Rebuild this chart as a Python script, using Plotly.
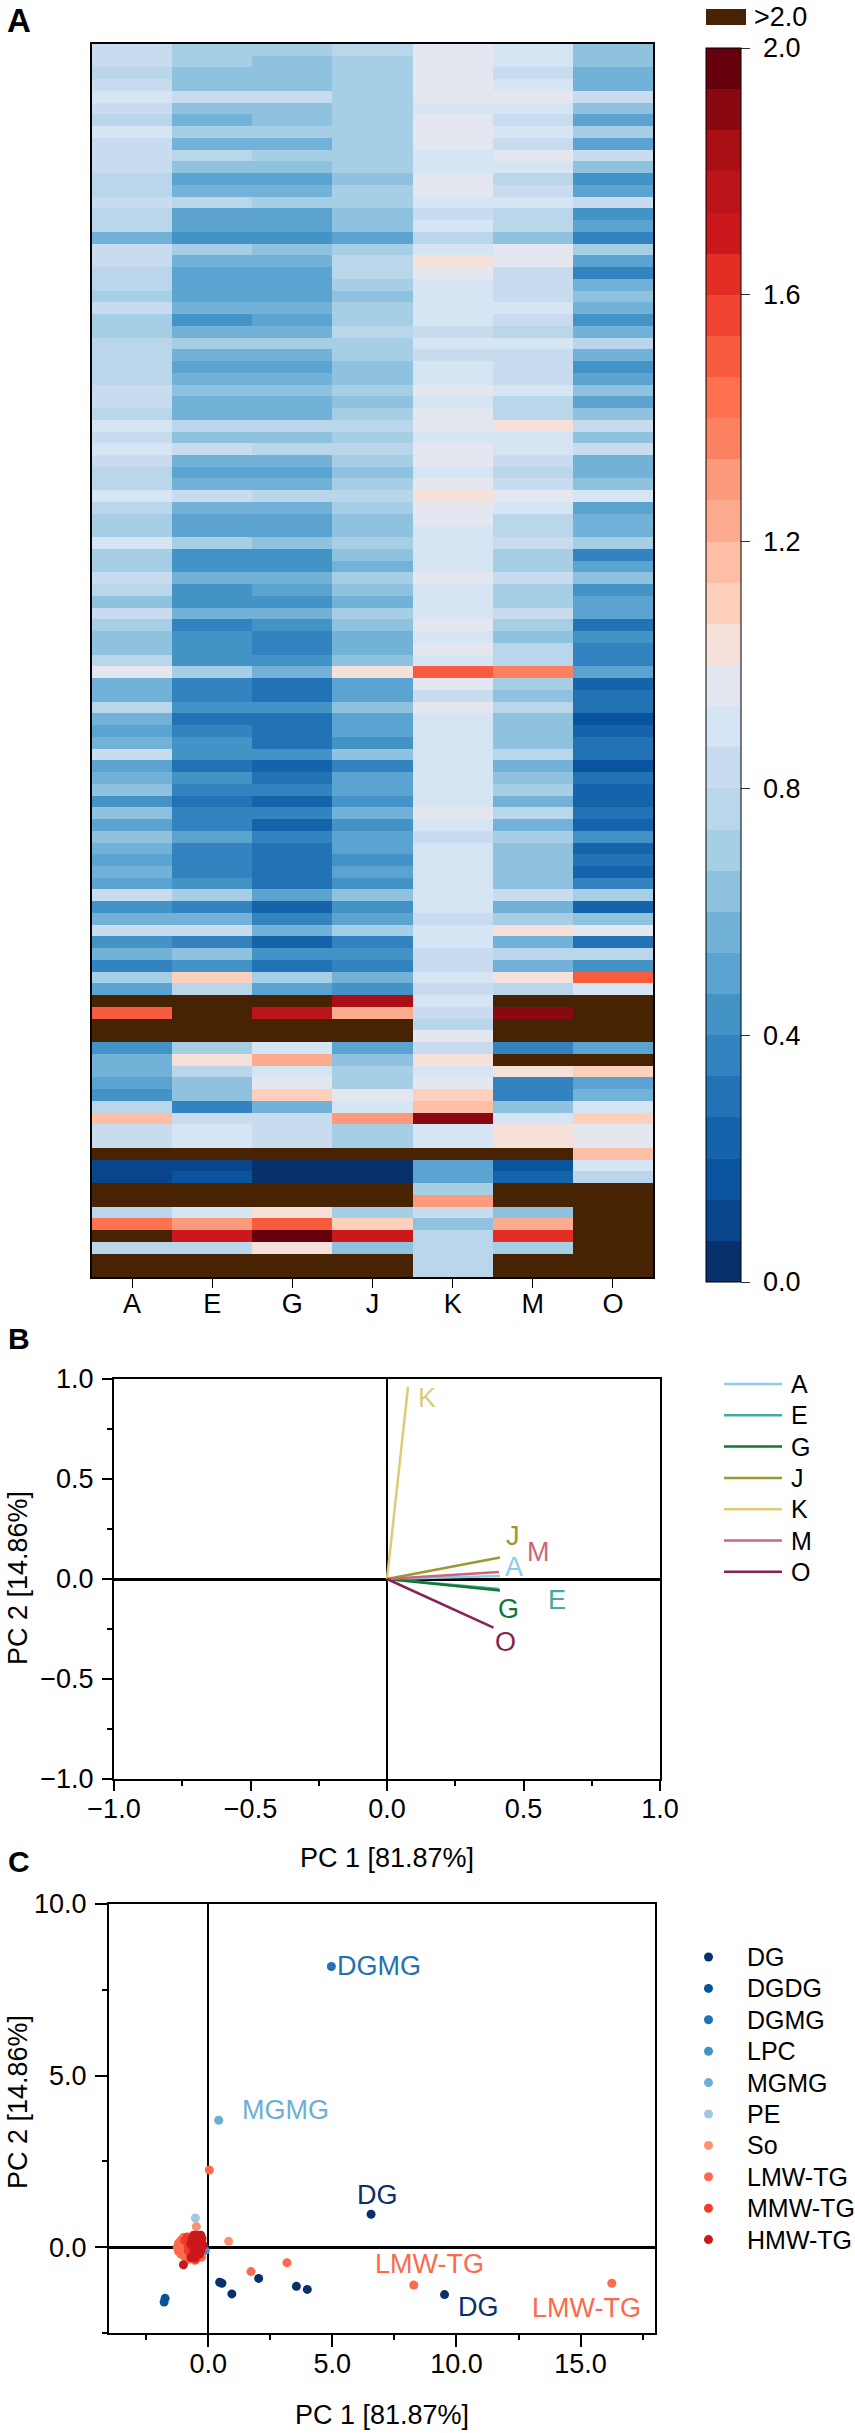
import plotly.graph_objects as go

W = 855
H = 2433
FONT = "Liberation Sans"

# heatmap (values above 2.0 stored as 2.5)
samples = ["A", "E", "G", "J", "K", "M", "O"]
rows_top = [
    [.83, .70, .70, .77, .97, .90, .63],
    [.83, .70, .63, .70, .97, .90, .63],
    [.77, .63, .63, .70, .97, .83, .57],
    [.83, .63, .63, .70, .97, .90, .57],
    [.90, .83, .83, .70, .97, .97, .83],
    [.83, .63, .63, .70, .90, .90, .63],
    [.77, .57, .63, .70, .97, .83, .50],
    [.90, .70, .70, .70, .97, .90, .70],
    [.83, .57, .57, .70, .97, .83, .50],
    [.83, .77, .70, .70, .90, .97, .83],
    [.83, .63, .63, .70, .90, .90, .63],
    [.77, .50, .50, .63, .97, .77, .43],
    [.77, .57, .57, .70, .97, .83, .50],
    [.83, .77, .70, .70, .90, .90, .83],
    [.77, .50, .50, .63, .83, .77, .43],
    [.77, .50, .50, .63, .90, .77, .50],
    [.57, .43, .43, .50, .77, .63, .37],
    [.83, .70, .63, .70, .90, .97, .70],
    [.83, .57, .57, .77, 1.03, .97, .50],
    [.77, .50, .50, .77, .97, .83, .37],
    [.77, .50, .50, .70, .90, .83, .57],
    [.70, .50, .50, .63, .90, .83, .63],
    [.83, .57, .57, .70, .90, .90, .57],
    [.70, .43, .50, .70, .90, .83, .43],
    [.70, .57, .57, .77, .83, .77, .57],
    [.77, .70, .70, .70, .90, .90, .77],
]
rows_upper = [
    [.77, .57, .57, .70, .83, .83, .57],
    [.77, .50, .50, .63, .90, .83, .43],
    [.77, .57, .57, .63, .90, .83, .50],
    [.83, .63, .63, .70, .97, .90, .63],
    [.83, .57, .57, .63, .90, .77, .50],
    [.77, .57, .57, .70, .97, .77, .63],
    [.90, .77, .77, .77, .97, 1.03, .83],
    [.83, .63, .63, .70, .90, .90, .63],
    [.90, .83, .77, .77, .97, .90, .83],
    [.83, .57, .57, .70, .97, .83, .57],
    [.77, .50, .50, .63, .90, .77, .57],
    [.77, .57, .57, .70, .97, .83, .63],
    [.90, .83, .77, .77, 1.03, .97, .90],
    [.77, .57, .57, .70, .97, .90, .50],
    [.70, .50, .50, .63, .97, .77, .57],
    [.70, .50, .50, .63, .90, .77, .57],
    [.90, .70, .63, .70, .90, .83, .70],
    [.70, .43, .43, .63, .90, .70, .37],
    [.70, .43, .43, .57, .90, .70, .50],
    [.83, .57, .57, .70, .97, .83, .63],
    [.77, .43, .50, .63, .90, .70, .43],
    [.63, .43, .43, .57, .90, .70, .50],
    [.83, .57, .57, .70, .90, .83, .50],
    [.70, .37, .43, .63, .97, .70, .30],
    [.63, .43, .37, .57, .90, .63, .43],
    [.63, .43, .37, .57, .97, .77, .37],
]
rows_lower = [
    [.77, .43, .43, .63, .90, .77, .37],
    [.97, .70, .57, 1.03, 1.50, 1.37, .50],
    [.57, .37, .30, .50, .97, .70, .23],
    [.57, .37, .30, .50, .83, .63, .30],
    [.77, .43, .43, .63, .97, .77, .30],
    [.57, .30, .30, .50, .90, .63, .17],
    [.50, .37, .30, .50, .90, .63, .23],
    [.57, .43, .30, .43, .90, .63, .30],
    [.83, .43, .43, .63, .90, .77, .30],
    [.50, .30, .23, .37, .90, .57, .17],
    [.57, .43, .30, .50, .90, .63, .30],
    [.63, .37, .37, .50, .90, .70, .23],
    [.43, .30, .23, .43, .90, .57, .23],
    [.63, .37, .37, .57, .97, .77, .30],
    [.50, .37, .23, .43, .90, .57, .23],
    [.63, .50, .37, .50, .83, .70, .43],
    [.57, .37, .30, .50, .90, .63, .23],
    [.50, .37, .30, .43, .90, .63, .30],
    [.57, .37, .30, .50, .90, .63, .23],
    [.50, .43, .30, .43, .90, .63, .37],
    [.83, .70, .50, .63, .90, .83, .70],
    [.43, .37, .23, .43, .90, .57, .23],
    [.57, .57, .37, .50, .83, .70, .63],
    [.83, .83, .57, .70, .90, 1.03, .97],
    [.43, .37, .23, .37, .90, .57, .30],
    [.57, .63, .43, .43, .83, .77, .77],
    [.37, .43, .30, .37, .83, .57, .43],
]
rows_bottom = [
    [.70, 1.10, .70, .57, .90, 1.03, 1.50],
    [.50, .77, .50, .43, .83, .77, .90],
    [2.5, 2.5, 2.5, 1.83, .90, 2.5, 2.5],
    [1.50, 2.5, 1.77, 1.23, .83, 1.90, 2.5],
    [2.5, 2.5, 2.5, 2.5, .77, 2.5, 2.5],
    [2.5, 2.5, 2.5, 2.5, .97, 2.5, 2.5],
    [.43, .70, .90, .50, .83, .37, .50],
    [.57, 1.03, 1.23, .63, 1.03, 2.5, 2.5],
    [.57, .77, .90, .70, .90, 1.03, 1.10],
    [.50, .63, .97, .70, .97, .37, .50],
    [.43, .63, 1.10, .97, 1.10, .37, .57],
    [.77, .37, .57, .90, 1.17, .63, .90],
    [1.17, .83, .83, 1.30, 1.90, .90, 1.10],
    [.83, .90, .83, .70, .90, 1.03, .97],
    [.83, .90, .83, .70, .90, 1.03, .97],
    [2.5, 2.5, 2.5, 2.5, 2.5, 2.5, 1.17],
    [.10, .10, .03, .03, .50, .17, .90],
    [.10, .17, .03, .03, .50, .23, .77],
    [2.5, 2.5, 2.5, 2.5, .70, 2.5, 2.5],
    [2.5, 2.5, 2.5, 2.5, 1.30, 2.5, 2.5],
    [.77, .90, 1.03, .70, .83, .63, 2.5],
    [1.43, 1.30, 1.50, 1.10, .63, 1.23, 2.5],
    [2.5, 1.70, 1.97, 1.70, .77, 1.63, 2.5],
    [.77, .77, 1.03, .63, .77, .70, 2.5],
    [2.5, 2.5, 2.5, 2.5, .77, 2.5, 2.5],
    [2.5, 2.5, 2.5, 2.5, .77, 2.5, 2.5],
]
level_colors = [
    "#08306b", "#08458a", "#0a539e", "#1563aa", "#2272b6", "#3383c0",
    "#4493c7", "#5ba3d0", "#72b2d8", "#8fc2de", "#a6cee4", "#b9d6ea",
    "#c9dcef", "#d6e5f4", "#e5e7f0", "#f6e0da", "#fdd0bc", "#fcbea5",
    "#fcab8f", "#fc9a7b", "#fc8161", "#fd7050", "#f95b3f", "#f14432",
    "#e32e26", "#cb181d", "#bb141a", "#a81016", "#8a0812", "#67000d",
]
over_color = "#472303"

# PCA loadings
load_names = ["A", "E", "G", "J", "K", "M", "O"]
load_x = [0.414, 0.41, 0.414, 0.414, 0.077, 0.41, 0.39]
load_y = [0.015, -0.05, -0.058, 0.107, 0.96, 0.035, -0.243]
load_colors = ["#88ccee", "#44aa99", "#117733", "#999933", "#ddcc77", "#cc6677", "#882255"]
load_label_x = [0.466, 0.622, 0.446, 0.46, 0.147, 0.556, 0.434]
load_label_y = [0.062, -0.105, -0.152, 0.217, 0.903, 0.133, -0.317]

# PCA scores per lipid class
dg_x = [6.56, 9.52, 2.03, 3.55, 3.99, 0.95, 0.46, 0.55]
dg_y = [0.96, -1.38, -0.91, -1.14, -1.23, -1.36, -1.02, -1.05]
dgdg_x = [-1.74, -1.78]
dgdg_y = [-1.49, -1.6]
dgmg_x = [4.96]
dgmg_y = [8.18]
lpc_x = [-0.12]
lpc_y = [-0.1]
mgmg_x = [0.42]
mgmg_y = [3.7]
pe_x = [-0.52]
pe_y = [0.85]
so_x = [-0.48, 0.82]
so_y = [0.6, 0.17]
lmw_x = [0.04, 3.17, 1.72, 8.28, 16.26, -1.25, -1.2, -1.2, -1.1, -1.1, -1.0, -1.0, -1.0,
         -0.95, -0.85, -0.8, -0.7, -0.27, -0.55]
lmw_y = [2.25, -0.45, -0.71, -1.1, -1.05, 0.0, 0.12, -0.12, 0.2, -0.2, 0.28, 0.05, -0.1,
         -0.28, 0.2, -0.35, -0.15, -0.29, -0.38]
mmw_x = [-0.95, -0.85, -0.75, -0.8, -0.8, -0.7, -0.6, -0.7, -0.6, -0.5, -0.3, -0.25, -0.35, -0.3]
mmw_y = [0.2, 0.3, 0.1, 0.0, -0.1, 0.28, 0.35, -0.2, -0.28, -0.35, 0.25, 0.1, -0.1, 0.3]
hmw_x = [-0.6, -0.55, -0.5, -0.45, -0.5, -0.5, -0.45, -0.4, -0.35, -0.6, -0.7, -1.0, -0.45, -0.55, -0.4,
         -0.3, -0.25, -0.3, -0.2, -0.7, -0.65, -0.35, -0.55, -0.55, -0.3]
hmw_y = [0.0, 0.15, 0.3, 0.35, -0.05, -0.15, 0.05, 0.2, 0.3, -0.2, -0.3, -0.51, -0.1, 0.25, -0.05,
         0.1, 0.25, -0.1, 0.05, 0.1, 0.25, -0.2, -0.3, 0.35, 0.35]

class_names = ["DG", "DGDG", "DGMG", "LPC", "MGMG", "PE", "So", "LMW-TG", "MMW-TG", "HMW-TG"]
class_x = [dg_x, dgdg_x, dgmg_x, lpc_x, mgmg_x, pe_x, so_x, lmw_x, mmw_x, hmw_x]
class_y = [dg_y, dgdg_y, dgmg_y, lpc_y, mgmg_y, pe_y, so_y, lmw_y, mmw_y, hmw_y]
class_colors = ["#08306b", "#08519c", "#2171b5", "#4292c6", "#6baed6", "#9ecae1",
                "#fc9272", "#fb6a4a", "#ef3b2c", "#cb181d"]

# text labels next to the score points
score_labels = ["DGMG", "MGMG", "DG", "LMW-TG", "DG", "LMW-TG"]
score_label_x = [6.87, 3.1, 6.8, 8.9, 10.9, 15.22]
score_label_y = [8.18, 4.0, 1.51, -0.48, -1.74, -1.76]
score_label_colors = ["#2171b5", "#6baed6", "#08306b", "#fb6a4a", "#08306b", "#fb6a4a"]


def px_x(v):
    return v / W


def px_y(v):
    return 1 - v / H


def paper_text(text, x, y, size=27, color="black", anchor="left", angle=0):
    return dict(
        text=text, xref="paper", yref="paper", x=px_x(x), y=px_y(y), xanchor=anchor,
        yanchor="middle", textangle=angle, showarrow=False, font=dict(size=size, color=color),
    )


rows = rows_top + rows_upper + rows_lower + rows_bottom
row_ids = list(range(len(rows)))
z_main = [[v if v <= 2 else None for v in r] for r in rows]
z_over = [[1 if v > 2 else None for v in r] for r in rows]

steps = []
for i, c in enumerate(level_colors):
    steps.append([i / 30, c])
    steps.append([(i + 1) / 30, c])

fig = go.Figure()

fig.add_trace(go.Heatmap(
    z=z_main, x=samples, y=row_ids, zmin=0, zmax=2, colorscale=steps, hoverongaps=False,
    colorbar=dict(
        x=px_x(706), xanchor="left", xpad=0, ypad=0,
        y=px_y(48), yanchor="top", len=1234, lenmode="pixels",
        thickness=35, thicknessmode="pixels",
        tick0=0, dtick=0.4, tickformat=".1f", ticks="outside", ticklen=9, tickwidth=1,
        tickprefix="\u00a0", tickcolor="#333333", tickfont=dict(size=27, color="black"),
        outlinecolor="black", outlinewidth=1,
    ),
))
fig.add_trace(go.Heatmap(
    z=z_over, x=samples, y=row_ids, zmin=0, zmax=1, showscale=False,
    colorscale=[[0, over_color], [1, over_color]], hoverongaps=False,
))

for i, name in enumerate(load_names):
    fig.add_trace(go.Scatter(
        x=[0, load_x[i]], y=[0, load_y[i]], mode="lines", name=name,
        line=dict(color=load_colors[i], width=2.5), xaxis="x2", yaxis="y2", showlegend=False,
    ))

for i, name in enumerate(class_names):
    fig.add_trace(go.Scatter(
        x=class_x[i], y=class_y[i], mode="markers", name=name,
        marker=dict(color=class_colors[i], size=9), xaxis="x3", yaxis="y3", showlegend=False,
    ))

axis_style = dict(
    showline=True, mirror=True, linecolor="black", linewidth=2, showgrid=False,
    ticks="outside", tickwidth=2, tickcolor="black",
    tickfont=dict(size=27, color="black"), zeroline=True, zerolinecolor="black", tickformat=".1f",
)
minor_b = dict(dtick=0.25, tick0=0, ticks="outside", ticklen=5, tickwidth=2, tickcolor="black")
minor_c = dict(dtick=2.5, tick0=0, ticks="outside", ticklen=5, tickwidth=2, tickcolor="black")

annotations = [
    paper_text("<b>A</b>", 5, 20, size=33),
    paper_text("<b>B</b>", 6, 1338, size=30),
    paper_text("<b>C</b>", 6, 1861, size=30),
    paper_text(">2.0", 752, 17),
    paper_text("PC 2 [14.86%]", 18, 1578, anchor="center", angle=-90),
    paper_text("PC 1 [81.87%]", 387, 1858, anchor="center"),
    paper_text("PC 2 [14.86%]", 18, 2102, anchor="center", angle=-90),
    paper_text("PC 1 [81.87%]", 382, 2415, anchor="center"),
]
for i, name in enumerate(load_names):
    annotations.append(dict(
        text=name, xref="x2", yref="y2", x=load_label_x[i], y=load_label_y[i], showarrow=False,
        font=dict(size=27, color=load_colors[i]),
    ))
for i, name in enumerate(score_labels):
    annotations.append(dict(
        text=name, xref="x3", yref="y3", x=score_label_x[i], y=score_label_y[i], showarrow=False,
        font=dict(size=27, color=score_label_colors[i]),
    ))

# the two legends are tighter than plotly's own row height allows, so they are laid out here
shapes = [dict(
    type="rect", xref="paper", yref="paper", x0=px_x(706), x1=px_x(746), y0=px_y(25), y1=px_y(9),
    fillcolor=over_color, line=dict(width=0),
)]
for i, name in enumerate(load_names):
    row_y = 1384 + i * 31.3
    shapes.append(dict(
        type="line", xref="paper", yref="paper", x0=px_x(724), x1=px_x(782), y0=px_y(row_y), y1=px_y(row_y),
        line=dict(color=load_colors[i], width=2.5),
    ))
    annotations.append(paper_text(name, 789, row_y, size=25))
for i, name in enumerate(class_names):
    row_y = 1957 + i * 31.4
    shapes.append(dict(
        type="circle", xref="paper", yref="paper", x0=px_x(704), x1=px_x(713),
        y0=px_y(row_y + 4.5), y1=px_y(row_y - 4.5), fillcolor=class_colors[i], line=dict(width=0),
    ))
    annotations.append(paper_text(name, 745, row_y, size=25))

fig.update_layout(
    width=W, height=H, autosize=False, margin=dict(l=0, r=0, t=0, b=0, autoexpand=False),
    paper_bgcolor="white", plot_bgcolor="white", font=dict(family=FONT, size=27, color="black"),
    xaxis=dict(
        domain=[px_x(92), px_x(653)], anchor="y", showline=True, mirror=True, linecolor="black",
        linewidth=2, ticks="outside", ticklen=9, tickwidth=1, tickcolor="black", showgrid=False,
        tickfont=dict(size=27, color="black"), ticklabelstandoff=-7,
    ),
    yaxis=dict(
        domain=[px_y(1277), px_y(44)], anchor="x", range=[len(rows) - 0.5, -0.5], showline=True,
        mirror=True, linecolor="black", linewidth=2, showticklabels=False, ticks="", showgrid=False,
        zeroline=False,
    ),
    xaxis2=dict(
        domain=[px_x(114), px_x(660)], anchor="y2", range=[-1, 1], dtick=0.5, tick0=0, ticklen=10,
        zerolinewidth=2, ticklabelstandoff=-5, minor=minor_b, **axis_style,
    ),
    yaxis2=dict(
        domain=[px_y(1779), px_y(1379)], anchor="x2", range=[-1, 1], dtick=0.5, tick0=0, ticklen=10,
        zerolinewidth=2.5, ticklabelstandoff=3, minor=minor_b, **axis_style,
    ),
    xaxis3=dict(
        domain=[px_x(109), px_x(655)], anchor="y3", range=[-4, 18], dtick=5, tick0=0, ticklen=12,
        zerolinewidth=1.5, ticklabelstandoff=-6, minor=minor_c, **axis_style,
    ),
    yaxis3=dict(
        domain=[px_y(2333), px_y(1904)], anchor="x3", range=[-2.5, 10], dtick=5, tick0=0, ticklen=12,
        zerolinewidth=2.5, ticklabelstandoff=3, minor=minor_c, **axis_style,
    ),
    annotations=annotations,
    shapes=shapes,
)

fig.write_html("out.html", config={"displayModeBar": False},
               post_script="document.body.style.margin='0';")
